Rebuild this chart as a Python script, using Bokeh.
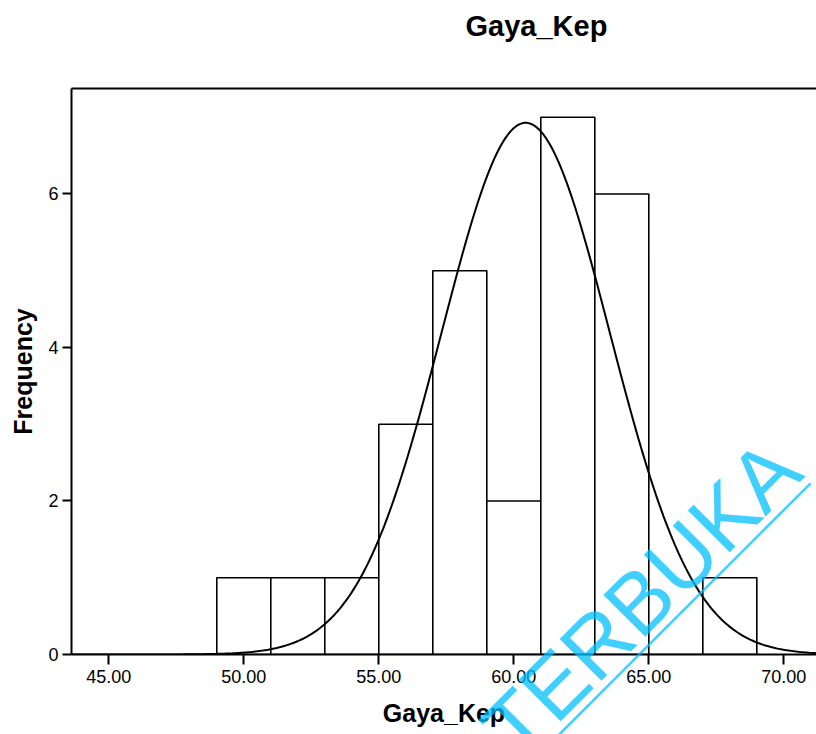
import numpy as np
from bokeh.plotting import figure
from bokeh.models import (LinearAxis, FixedTicker, NumeralTickFormatter, Range1d)
from bokeh.core.properties import value
from bokeh.embed import file_html
from bokeh.resources import INLINE

# ---- data ----
bin_edges = [49, 51, 53, 55, 57, 59, 61, 63, 65, 67, 69]
counts = [1, 1, 1, 3, 5, 2, 7, 6, 0, 1]
x_ticks = [45, 50, 55, 60, 65, 70]
y_ticks = [0, 2, 4, 6]
fit_mean = 60.44
fit_sd = 3.11
n_obs = sum(counts)
bin_width = 2
title_text = "Gaya_Kep"
x_label = "Gaya_Kep"
y_label = "Frequency"
watermark = "TERBUKA"

FONT = "Liberation Sans"

p = figure(width=816, height=734, output_backend="svg", toolbar_location=None,
           x_range=Range1d(43.62, 71.21), y_range=Range1d(0, 7.374),
           min_border_left=71, min_border_right=0, min_border_top=88, min_border_bottom=80,
           x_axis_label=x_label, y_axis_label=y_label)
p.outline_line_color = None
p.grid.visible = False
p.background_fill_color = "white"
p.border_fill_color = "white"

# bars
p.quad(left=bin_edges[:-1], right=bin_edges[1:], bottom=0, top=counts,
       fill_color="white", line_color="black", line_width=1.6)

# normal curve
xs = np.linspace(43.62, 71.3, 400)
ys = n_obs * bin_width / (fit_sd * np.sqrt(2 * np.pi)) * np.exp(-0.5 * ((xs - fit_mean) / fit_sd) ** 2)
p.line(xs, ys, line_color="black", line_width=2)

# axes styling
xa = p.xaxis[0]
xa.ticker = FixedTicker(ticks=x_ticks)
xa.formatter = NumeralTickFormatter(format="0.00")
ya = p.yaxis[0]
ya.ticker = FixedTicker(ticks=y_ticks)
for ax in (xa, ya):
    ax.axis_line_width = 2
    ax.axis_line_color = "black"
    ax.major_tick_line_width = 2
    ax.major_tick_line_color = "black"
    ax.minor_tick_line_color = None
    ax.major_tick_in = 0
    ax.major_label_text_font = FONT
    ax.major_label_text_font_size = "18px"
    ax.major_label_text_color = "black"
    ax.axis_label_text_font = FONT
    ax.axis_label_text_font_style = "bold"
    ax.axis_label_text_font_size = "25px"
    ax.axis_label_text_color = "black"
xa.major_tick_out = 10
xa.major_label_standoff = 5
xa.axis_label_standoff = 13
ya.major_tick_out = 9
ya.major_label_standoff = 4
ya.axis_label_standoff = 8
ya.major_label_orientation = "horizontal"

# top border line
top = LinearAxis(ticker=FixedTicker(ticks=[]), major_label_text_font_size="0px",
                 axis_line_width=2, axis_line_color="black",
                 major_tick_line_color=None, minor_tick_line_color=None,
                 major_tick_out=0, major_label_standoff=0)
p.add_layout(top, "above")

# reference pixel -> data helpers (for decoration placement)
def dx(px):
    return 45 + (px - 108.3) / 27.0

def dy(py):
    return (654.3 - py) / 76.8

# title (drawn unclipped above the frame)
p.text(x=[dx(465)], y=[dy(25)], text=[title_text], text_font=value(FONT),
       text_font_style="bold", text_font_size="29px", text_color="black",
       text_align="left", text_baseline="alphabetic", level="overlay")

# watermark
p.text(x=[dx(497)], y=[dy(742)], text=[watermark], angle=45, angle_units="deg",
       text_font=value(FONT), text_font_size="86px", text_color="#00BFFF", text_alpha=0.75,
       text_align="left", text_baseline="alphabetic", level="overlay")
p.line(x=[dx(520), dx(810)], y=[dy(773), dy(483)],
       line_color="#00BFFF", line_alpha=0.75, line_width=2.5, level="overlay")

open("out.html", "w").write(file_html(p, INLINE))
